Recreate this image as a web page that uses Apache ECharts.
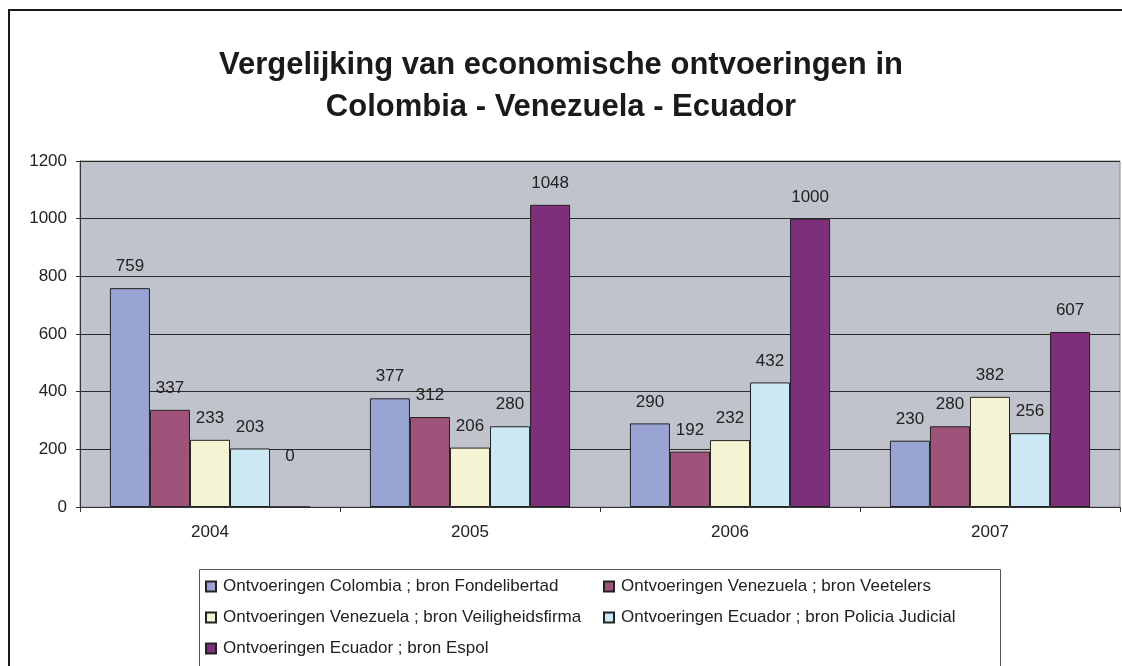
<!DOCTYPE html>
<html><head><meta charset="utf-8">
<script src="https://cdn.jsdelivr.net/npm/echarts@6/dist/echarts.min.js"></script>
<style>html,body{margin:0;padding:0;background:#fff}#c{width:1122px;height:666px}</style>
</head><body><div id="c"></div>
<script>
const categories = ['2004', '2005', '2006', '2007'];
const seriesNames = [
  'Ontvoeringen Colombia ; bron Fondelibertad',
  'Ontvoeringen Venezuela ; bron Veetelers',
  'Ontvoeringen Venezuela ; bron Veiligheidsfirma',
  'Ontvoeringen Ecuador ; bron Policia Judicial',
  'Ontvoeringen Ecuador ; bron Espol'
];
const colombiaFondelibertad = [759, 377, 290, 230];
const venezuelaVeetelers = [337, 312, 192, 280];
const venezuelaVeiligheidsfirma = [233, 206, 232, 382];
const ecuadorPolicia = [203, 280, 432, 256];
const ecuadorEspol = [0, 1048, 1000, 607];
const yTicks = [0, 200, 400, 600, 800, 1000, 1200];
const colors = ['#99A3D4', '#A0537A', '#F4F3D3', '#CBE8F4', '#7D2F7A'];

const values = [colombiaFondelibertad, venezuelaVeetelers, venezuelaVeiligheidsfirma, ecuadorPolicia, ecuadorEspol];
const FONT = '"Liberation Sans", Arial, sans-serif';
const legendText = { fontFamily: FONT, fontSize: 17, color: '#222', padding: [0, 0, 0, 2] };

const chart = echarts.init(document.getElementById('c'));
chart.setOption({
  animation: false,
  backgroundColor: '#fff',
  title: {
    text: 'Vergelijking van economische ontvoeringen in\nColombia - Venezuela - Ecuador',
    left: 'center', top: 39,
    textStyle: { fontFamily: FONT, fontSize: 31, fontWeight: 'bold', color: '#1a1a1a', lineHeight: 42 }
  },
  graphic: [
    { type: 'rect', shape: { x: 9, y: 10, width: 1130, height: 680 }, style: { fill: 'none', stroke: '#1a1a1a', lineWidth: 2 }, silent: true },
    { type: 'rect', shape: { x: 199.5, y: 569.5, width: 801, height: 110 }, style: { fill: '#fff', stroke: '#555', lineWidth: 1 }, silent: true, z: -1 }
  ],
  legend: [
    {
      data: [seriesNames[0], seriesNames[2], seriesNames[4]],
      orient: 'vertical', left: 200, top: 573, itemGap: 14,
      icon: 'rect', itemWidth: 10, itemHeight: 10,
      textStyle: legendText
    },
    {
      data: [seriesNames[1], seriesNames[3]],
      orient: 'vertical', left: 598, top: 573, itemGap: 14,
      icon: 'rect', itemWidth: 10, itemHeight: 10,
      textStyle: legendText
    }
  ],
  grid: {
    left: 80, right: 2, top: 161, bottom: 159,
    show: true, backgroundColor: '#C0C3CB', borderColor: '#8a8a8a', borderWidth: 1
  },
  xAxis: {
    type: 'category', data: categories,
    axisLine: { lineStyle: { color: '#333', width: 1 } },
    axisTick: { show: true, length: 5, lineStyle: { color: '#333' } },
    axisLabel: { fontFamily: FONT, fontSize: 17, color: '#222', margin: 17 }
  },
  yAxis: {
    type: 'value', min: 0, max: 1200, interval: 200,
    axisLine: { show: true, lineStyle: { color: '#333', width: 1 } },
    axisTick: { show: true, length: 4, lineStyle: { color: '#333' } },
    axisLabel: { fontFamily: FONT, fontSize: 17, color: '#222', margin: 13,
      formatter: v => yTicks.includes(v) ? String(v) : '' },
    splitLine: { lineStyle: { color: '#2a2a2a', width: 1 } }
  },
  series: values.map((d, i) => ({
    name: seriesNames[i], type: 'bar',
    data: d.map(v => v === 0 ? { value: v, label: { distance: 42 } } : v),
    barGap: '0%', barCategoryGap: '23%',
    itemStyle: { color: colors[i], borderColor: '#222', borderWidth: 1 },
    label: { show: true, position: 'top', distance: 13, fontFamily: FONT, fontSize: 17, color: '#222' }
  }))
});
</script></body></html>
